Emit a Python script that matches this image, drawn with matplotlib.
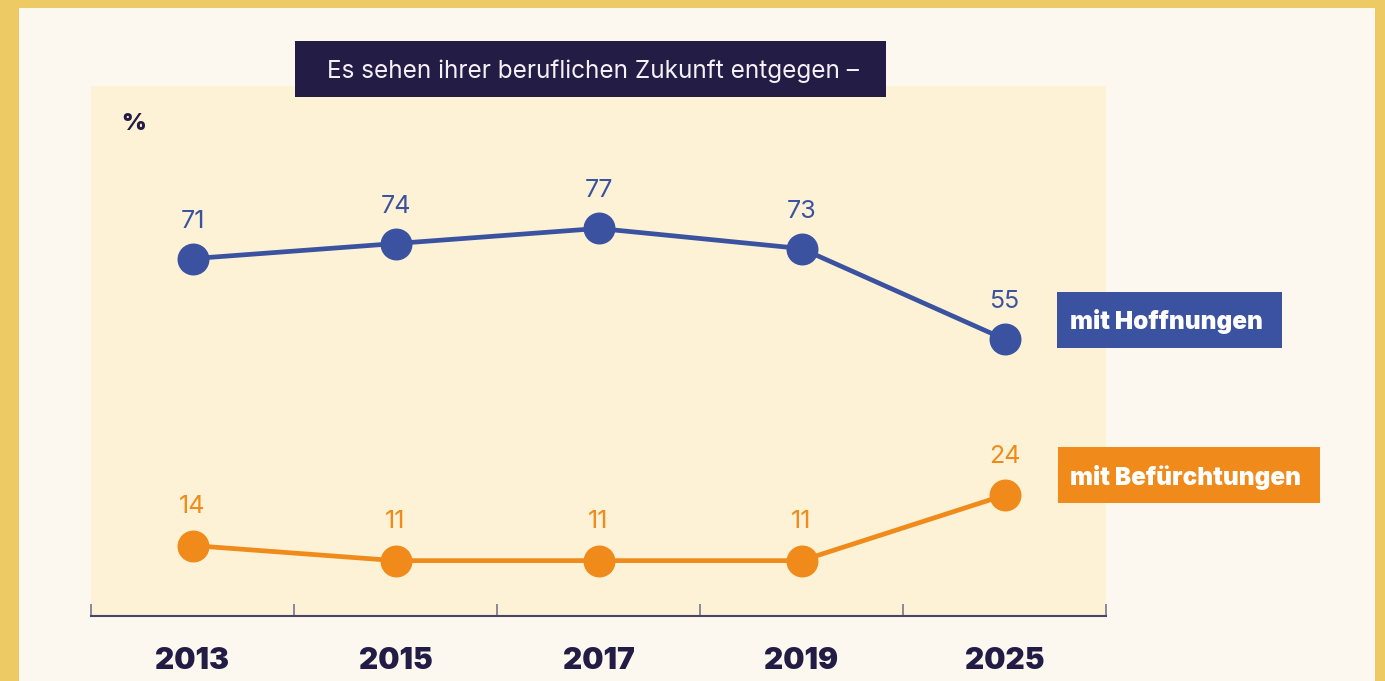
import matplotlib
matplotlib.use("Agg")
import matplotlib.pyplot as plt
from matplotlib.patches import Rectangle

years = ["2013", "2015", "2017", "2019", "2025"]
hoffnungen = [71, 74, 77, 73, 55]
befuerchtungen = [14, 11, 11, 11, 24]
series_names = ["mit Hoffnungen", "mit Befürchtungen"]
title_text = "Es sehen ihrer beruflichen Zukunft entgegen –"
unit_label = "%"

BLUE = "#3A52A0"
ORANGE = "#F08A1A"
NAVY = "#231C45"
BORDER = "#EDCA63"
CREAM = "#FDF8EF"
PLOTBG = "#FDF2D5"

W, H = 1385, 681
plt.rcParams['font.family'] = ['Inter', 'DejaVu Sans']
fig = plt.figure(figsize=(W / 100, H / 100), dpi=100)
fig.patch.set_facecolor(BORDER)

def fx(px):
    return px / W

def fy(py):
    return 1 - py / H

# inner cream panel
fig.patches.append(Rectangle((fx(19), 0), fx(1375 - 19), fy(8), transform=fig.transFigure,
                             facecolor=CREAM, edgecolor="none", zorder=-5))

ax = fig.add_axes([fx(91), fy(616), fx(1106 - 91), (616 - 86) / H])
ax.set_zorder(1)
ax.set_facecolor(PLOTBG)
x = list(range(len(years)))
ax.plot(x, hoffnungen, color=BLUE, lw=3.4, marker="o", ms=22, zorder=3, clip_on=False)
ax.plot(x, befuerchtungen, color=ORANGE, lw=3.4, marker="o", ms=22, zorder=3, clip_on=False)
for xi, v in zip(x, hoffnungen):
    ax.annotate(str(v), (xi, v), xytext=(0, 27), textcoords="offset points",
                ha="center", va="center", fontsize=18, color=BLUE)
for xi, v in zip(x, befuerchtungen):
    ax.annotate(str(v), (xi, v), xytext=(0, 28), textcoords="offset points",
                ha="center", va="center", fontsize=18, color=ORANGE)

ax.set_xlim(-0.5, len(years) - 0.5)
ax.set_ylim(0, 105.3)
ax.set_yticks([])
ax.set_xticks([i - 0.5 for i in range(len(years) + 1)])
ax.set_xticklabels([])
ax.set_xticks(x, minor=True)
ax.set_xticklabels(years, minor=True, fontsize=21.5, fontweight="black", color=NAVY)
ax.tick_params(axis="x", which="major", direction="in", length=9, width=1.2, color="#7A7690")
ax.tick_params(axis="x", which="minor", length=0, pad=22)
for s in ["top", "right", "left"]:
    ax.spines[s].set_visible(False)
ax.spines["bottom"].set_color("#4A4566")
ax.spines["bottom"].set_linewidth(1.5)

fig.text(fx(121), fy(124), unit_label, fontsize=17,
         fontweight="black", color=NAVY, ha="left", va="center", zorder=6)

# title box
fig.patches.append(Rectangle((fx(295), fy(97)), fx(886 - 295), (97 - 41) / H,
                             transform=fig.transFigure, facecolor=NAVY, edgecolor="none", zorder=5))
fig.text(fx(593), fy(71), title_text, fontsize=17.5, color="#F4F1F8", ha="center", va="center", zorder=6)

# series labels
fig.patches.append(Rectangle((fx(1057), fy(348)), fx(1282 - 1057), (348 - 292) / H,
                             transform=fig.transFigure, facecolor=BLUE, edgecolor="none", zorder=5))
fig.text(fx(1070), fy(322), series_names[0], fontsize=17.5, fontweight="black", color="white",
         ha="left", va="center", zorder=6)
fig.patches.append(Rectangle((fx(1058), fy(503)), fx(1320 - 1058), (503 - 447) / H,
                             transform=fig.transFigure, facecolor=ORANGE, edgecolor="none", zorder=5))
fig.text(fx(1070), fy(477), series_names[1], fontsize=17.5, fontweight="black", color="white",
         ha="left", va="center", zorder=6)

fig.savefig("out.png", dpi=100, facecolor=fig.get_facecolor())
